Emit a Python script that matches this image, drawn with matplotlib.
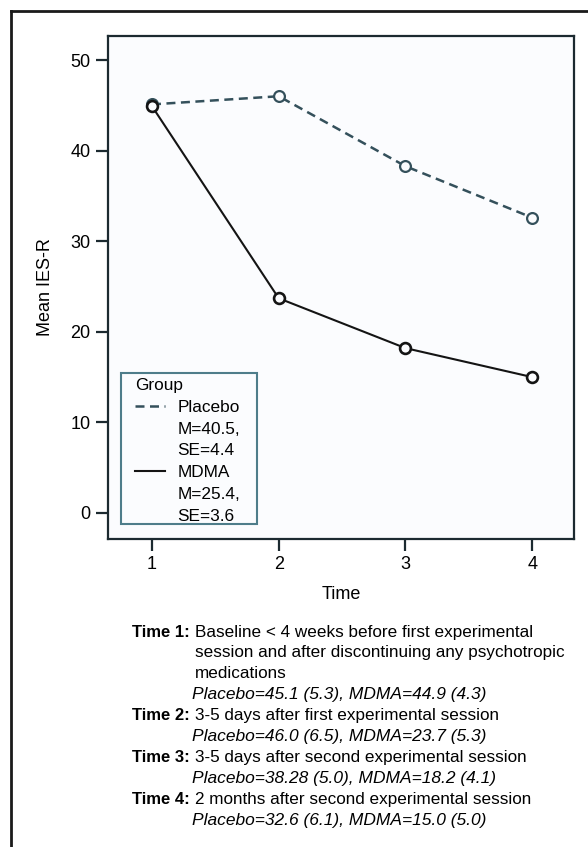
import matplotlib
matplotlib.use('Agg')
import matplotlib.pyplot as plt
from matplotlib.lines import Line2D
from matplotlib.patches import Rectangle

# Dados do gráfico
tempos = [1, 2, 3, 4]
placebo_media = [45.1, 46.0, 38.28, 32.6]
placebo_dp = [5.3, 6.5, 5.0, 6.1]
mdma_media = [44.9, 23.7, 18.2, 15.0]
mdma_dp = [4.3, 5.3, 4.1, 5.0]

grupos = ['Placebo', 'MDMA']
grupo_m = [40.5, 25.4]
grupo_se = [4.4, 3.6]

y_ticks = [0, 10, 20, 30, 40, 50]

rotulos_tempo = ['Time 1:', 'Time 2:', 'Time 3:', 'Time 4:']
descricoes = [
    ['Baseline < 4 weeks before first experimental',
     'session and after discontinuing any psychotropic',
     'medications'],
    ['3-5 days after first experimental session'],
    ['3-5 days after second experimental session'],
    ['2 months after second experimental session'],
]

W, H = 588, 847
FONTE = 'Liberation Sans'
plt.rcParams['font.family'] = [FONTE, 'DejaVu Sans']

fig = plt.figure(figsize=(W / 100, H / 100), dpi=100)
fig.patch.set_facecolor('white')

# Posição do eixo em pixels (esquerda, topo, direita, base)
esq, topo, dir_, base = 108, 36, 574, 539
ax = fig.add_axes([esq / W, 1 - base / H, (dir_ - esq) / W, (base - topo) / H])
fundo = '#fbfcfe'
ax.set_facecolor(fundo)

cor_placebo = '#34505b'
cor_mdma = '#141414'

ax.plot(tempos, placebo_media, color=cor_placebo, lw=1.8, dashes=(3.6, 2.2),
        marker='o', ms=7.8, mfc=fundo, mec=cor_placebo, mew=1.6, zorder=3)
ax.plot(tempos, mdma_media, color=cor_mdma, lw=1.5,
        marker='o', ms=7.8, mfc=fundo, mec=cor_mdma, mew=1.9, zorder=4)

ax.set_xlim(0.653, 4.33)
ax.set_ylim(-2.87, 52.65)
ax.set_xticks(tempos)
ax.set_yticks(y_ticks)
ax.tick_params(axis='both', direction='out', length=8.5, width=1.6,
               color='#1c2a30', labelsize=13, pad=4)
for s in ax.spines.values():
    s.set_linewidth(1.6)
    s.set_color('#1c2a30')

ax.set_xlabel('Time', fontsize=13, labelpad=9)
ax.set_ylabel('Mean IES-R', fontsize=13, labelpad=12)

# Caixa da legenda desenhada à parte (padding vertical menor que o horizontal)
def px_ax(x, y):
    return (x - esq) / (dir_ - esq), (base - y) / (base - topo)

x0, y0 = px_ax(121, 524)
x1, y1 = px_ax(257, 373)
ax.add_patch(Rectangle((x0, y0), x1 - x0, y1 - y0, transform=ax.transAxes,
                       facecolor=fundo, edgecolor='#4e7d8a', lw=1.5, zorder=4.5))

# Legenda com linhas extras para M e SE
vazio = Line2D([], [], linestyle='none')
alcas = []
rotulos = []
estilos = [dict(color=cor_placebo, lw=1.8, dashes=(3.6, 2.2)),
           dict(color=cor_mdma, lw=1.5)]
for g, m, se, est in zip(grupos, grupo_m, grupo_se, estilos):
    alcas += [Line2D([], [], **est), vazio, vazio]
    rotulos += [g, f'M={m},', f'SE={se}']

leg = ax.legend(alcas, rotulos, title='Group', loc='upper left',
                bbox_to_anchor=px_ax(135, 378), borderaxespad=0,
                fontsize=12.4, title_fontsize=12.4, alignment='left',
                handlelength=1.75, handletextpad=0.7, labelspacing=0.39,
                borderpad=0, frameon=False)
leg.set_zorder(5)

# Moldura externa (somente topo e esquerda visíveis)
fig.add_artist(Line2D([11 / W, 1], [1 - 11 / H, 1 - 11 / H], color='#1a1a1a', lw=2))
fig.add_artist(Line2D([11 / W, 11 / W], [0, 1 - 11 / H], color='#1a1a1a', lw=2))

# Notas abaixo do gráfico
y = 632
passo = 20.9
for i, (rot, desc) in enumerate(zip(rotulos_tempo, descricoes)):
    fig.text(132 / W, 1 - y / H, rot, fontsize=12, fontweight='bold', va='center')
    for linha in desc:
        fig.text(195 / W, 1 - y / H, linha, fontsize=12.3, va='center')
        y += passo
    valores = (f'Placebo={placebo_media[i]} ({placebo_dp[i]}), '
               f'MDMA={mdma_media[i]} ({mdma_dp[i]})')
    fig.text(192 / W, 1 - y / H, valores, fontsize=12.5, style='italic', va='center')
    y += passo

fig.savefig('out.png', dpi=100)
